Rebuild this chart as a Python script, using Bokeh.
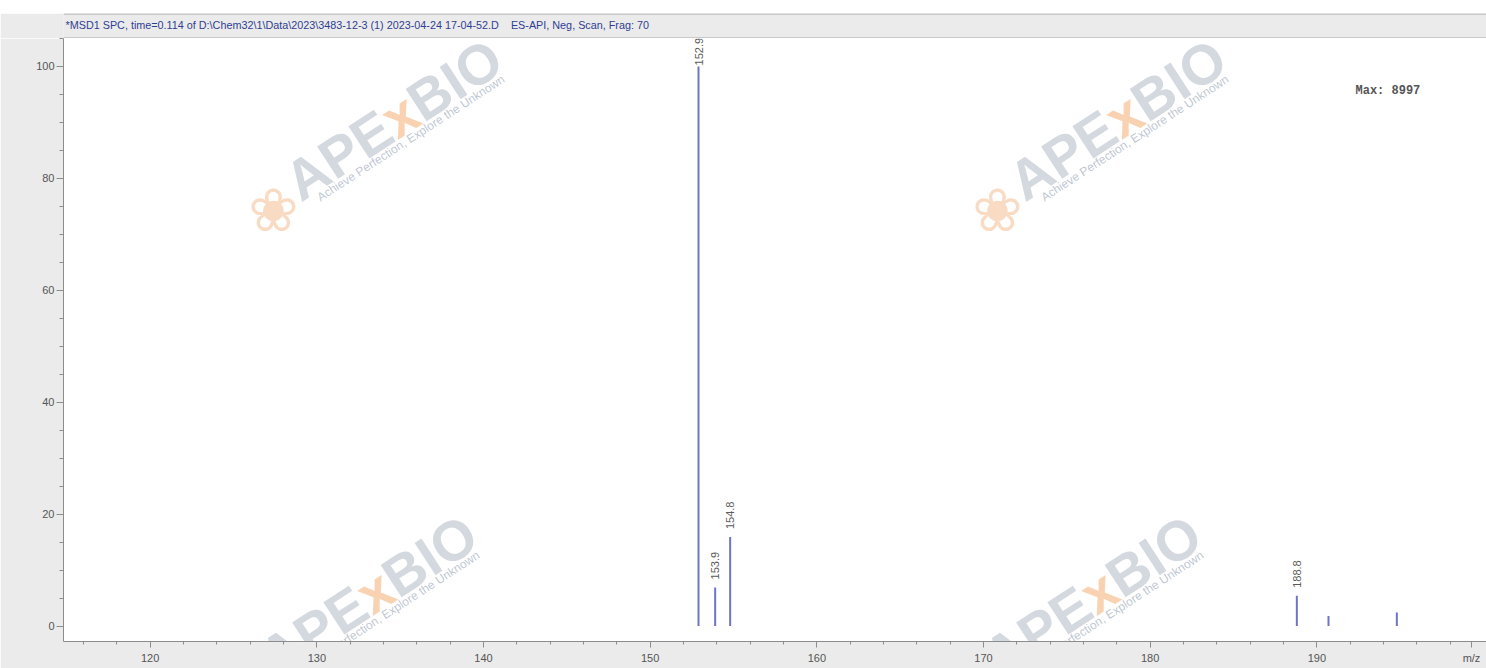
import math
from bokeh.plotting import figure
from bokeh.models import (Label, SingleIntervalTicker, Range1d, ColumnDataSource, Span,
                          Spacer, FixedTicker, CustomJSTickFormatter)
from bokeh.layouts import column
from bokeh.embed import file_html
from bokeh.resources import INLINE
from bokeh.core.properties import value

# ---------------- data ----------------
title_text = ("*MSD1 SPC, time=0.114 of D:\\Chem32\\1\\Data\\2023\\3483-12-3 (1) "
              "2023-04-24 17-04-52.D\u00a0\u00a0\u00a0 ES-API, Neg, Scan, Frag: 70")
max_text = "Max: 8997"
x_unit_text = "m/z"
mz = [152.9, 153.9, 154.8, 188.8, 190.7, 194.8]
abundance = [100.0, 6.9, 15.9, 5.4, 1.8, 2.4]
label_mz = [152.9, 153.9, 154.8, 188.8]
label_abundance = [100.0, 6.9, 15.9, 5.4]
label_text = ["152.9", "153.9", "154.8", "188.8"]
x_major_ticks = [120, 130, 140, 150, 160, 170, 180, 190]
x_minor_ticks = list(range(116, 200, 2))
wm_brand = ["APE", "x", "BIO"]
wm_tagline = "Achieve Perfection, Explore the Unknown"

FIG_W = 1486
FONT = "Liberation Sans"
TICK_COL = "#555555"
AXIS_COL = "#8c8c8c"
PEAK_COL = "#7074c8"
PANEL = "#ebebeb"

# ---------------- title bar ----------------
t = figure(width=FIG_W, height=25, x_axis_type=None, y_axis_type=None,
           toolbar_location=None, output_backend="svg",
           x_range=Range1d(0, 1), y_range=Range1d(0, 25),
           min_border_top=0, min_border_left=63, min_border_right=0, min_border_bottom=0)
t.background_fill_color = PANEL
t.border_fill_color = PANEL
t.outline_line_color = None
t.grid.visible = False
t.add_layout(Span(location=24.5, dimension="width", line_color="#a6a6a6", line_width=1))
t.add_layout(Span(location=0.5, dimension="width", line_color="#a6a6a6", line_width=1))
t.add_layout(Label(x=2, y=14, x_units="screen", y_units="screen", text=title_text,
                   text_font=FONT, text_font_size="10.8px", text_color="#2f3e92",
                   text_baseline="middle", text_align="left"))

# ---------------- main plot ----------------
p = figure(width=FIG_W, height=630, x_range=Range1d(114.8, 200.18),
           y_range=Range1d(-2.77, 105.0), toolbar_location=None, output_backend="svg",
           min_border_top=0, min_border_left=63, min_border_right=0, min_border_bottom=27)
p.background_fill_color = "white"
p.border_fill_color = PANEL
p.outline_line_color = None
p.grid.visible = False

# watermarks (under the data)
theta = math.radians(33)
FRAME_L, FRAME_B = 63, 641   # reference-pixel position of the frame's bottom-left corner


def scr(X, Y):
    return X - FRAME_L, FRAME_B - Y


def watermark(X, Y):
    widths = [115, 31, 100]
    cols = ["#cdd2db", "#f8caa4", "#cdd2db"]
    off = 0
    for txt, w, c in zip(wm_brand, widths, cols):
        sx, sy = scr(X + off * math.cos(theta), Y - off * math.sin(theta))
        p.add_layout(Label(x=sx, y=sy, x_units="screen", y_units="screen", text=txt,
                           angle=theta, text_font=FONT, text_font_style="bold",
                           text_font_size="56px", text_color=c, text_alpha=0.85,
                           text_align="left", text_baseline="alphabetic", level="underlay"))
        off += w
    sx, sy = scr(X + 24, Y + 6)
    p.add_layout(Label(x=sx, y=sy, x_units="screen", y_units="screen", text=wm_tagline,
                       angle=theta, text_font=FONT, text_font_size="12px",
                       text_color="#b7bfcd", text_alpha=0.9, text_align="left",
                       text_baseline="top", level="underlay"))
    sx, sy = scr(X - 17, Y + 23)
    p.add_layout(Label(x=sx, y=sy, x_units="screen", y_units="screen", text="\u2740",
                       text_font="DejaVu Sans", text_font_size="60px", text_color="#f6cbaa",
                       text_alpha=0.7, text_align="center", text_baseline="middle",
                       level="underlay"))


for X, Y in [(290, 186), (1014, 186), (265, 662), (989, 662)]:
    watermark(X, Y)

src = ColumnDataSource(dict(mz=mz, ab=abundance, base=[0] * len(mz)))
p.segment(x0="mz", y0="base", x1="mz", y1="ab", source=src,
          line_color=PEAK_COL, line_width=2)

lab_src = ColumnDataSource(dict(mz=label_mz, ab=label_abundance, txt=label_text,
                                off=[-1 if a >= 99 else -8 for a in label_abundance]))
p.text(x="mz", y="ab", text="txt", source=lab_src, angle=math.pi / 2,
       text_align="left", text_baseline="middle", y_offset="off",
       text_font=value(FONT), text_font_size="11px", text_color="#5a5a5a")

# axes
unit_pos = p.x_range.end - 0.9
p.xaxis.ticker = FixedTicker(ticks=x_major_ticks + [unit_pos], minor_ticks=x_minor_ticks)
p.xaxis.formatter = CustomJSTickFormatter(
    args=dict(unit=x_unit_text, upos=unit_pos),
    code="return Math.abs(tick - upos) < 1e-6 ? unit : tick.toFixed(0);")
p.yaxis.ticker = SingleIntervalTicker(interval=20, num_minor_ticks=4)
for ax in (p.xaxis, p.yaxis):
    ax.axis_line_color = AXIS_COL
    ax.major_tick_line_color = AXIS_COL
    ax.minor_tick_line_color = AXIS_COL
    ax.major_tick_in = 0
    ax.minor_tick_in = 0
    ax.major_label_text_font = FONT
    ax.major_label_text_font_size = "11px"
    ax.major_label_text_color = TICK_COL
p.xaxis.major_tick_out = 6
p.xaxis.minor_tick_out = 3
p.xaxis.major_label_standoff = 4
p.yaxis.major_tick_out = 7
p.yaxis.minor_tick_out = 4
p.yaxis.major_label_standoff = 2

p.add_layout(Label(x=1292, y=551, x_units="screen", y_units="screen", text=max_text,
                   text_font="Liberation Mono", text_font_style="bold",
                   text_font_size="12px", text_color="#555555",
                   text_align="left", text_baseline="middle"))

layout = column(Spacer(width=FIG_W, height=13), t, p, spacing=0)
open("out.html", "w").write(file_html(layout, INLINE))
